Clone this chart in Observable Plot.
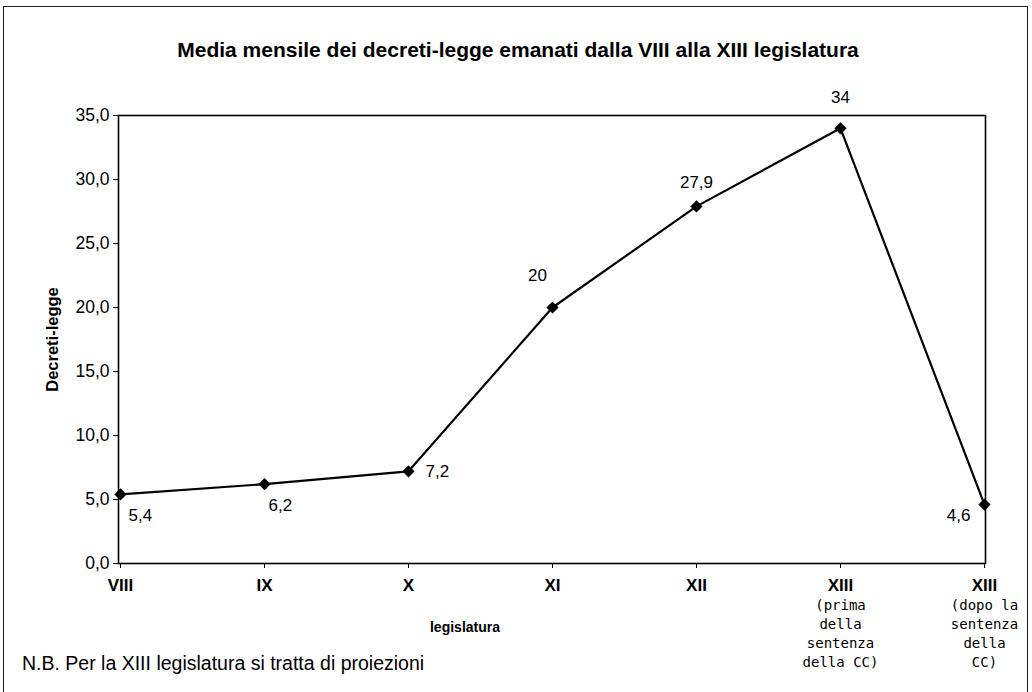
<!DOCTYPE html>
<html>
<head>
<meta charset="utf-8">
<script src="https://cdn.jsdelivr.net/npm/d3@7"></script>
<script src="https://cdn.jsdelivr.net/npm/@observablehq/plot@0.6"></script>
<style>
  html, body { margin: 0; padding: 0; background: #fff; }
  #wrap { position: relative; width: 1032px; height: 692px; overflow: hidden; font-family: "Liberation Sans", Arial, sans-serif; }
  #border { position: absolute; left: 3px; top: 6px; width: 1025px; height: 700px; border: 1px solid #222; box-sizing: border-box; }
  #title { position: absolute; left: 0; width: 1036px; top: 38px; text-align: center; font-weight: bold; font-size: 21px; color: #000; }
  #xtitle { position: absolute; left: 365px; width: 200px; top: 619px; text-align: center; font-weight: bold; font-size: 14px; color: #000; }
  #note { position: absolute; left: 22px; top: 652px; font-size: 19.5px; color: #000; }
  #chart { position: absolute; left: 0; top: 0; }
  #chart [aria-label="y-axis label"] text { font-weight: bold; font-size: 16.5px; }
</style>
</head>
<body>
<div id="wrap">
  <div id="chart"></div>
  <div id="border"></div>
  <div id="title">Media mensile dei decreti-legge emanati dalla VIII alla XIII legislatura</div>
  <div id="xtitle">legislatura</div>
  <div id="note">N.B. Per la XIII legislatura si tratta di proiezioni</div>
</div>
<script>
// ---- data ----
const categories = ["VIII", "IX", "X", "XI", "XII", "XIII-prima", "XIII-dopo"];
const tickLabels = ["VIII", "IX", "X", "XI", "XII", "XIII", "XIII"];
const subLabels = ["", "", "", "", "", "(prima\ndella\nsentenza\ndella CC)", "(dopo la\nsentenza\ndella\nCC)"];
const values = [5.4, 6.2, 7.2, 20, 27.9, 34, 4.6];
const valueLabels = ["5,4", "6,2", "7,2", "20", "27,9", "34", "4,6"];
const yTicks = [0, 5, 10, 15, 20, 25, 30, 35];

// ---- label placement (style only) ----
const labelPlacement = [
  {dx: 8, dy: 21, anchor: "start"},
  {dx: 4, dy: 21, anchor: "start"},
  {dx: 17, dy: 0, anchor: "start"},
  {dx: -15, dy: -32, anchor: "middle"},
  {dx: 0, dy: -24, anchor: "middle"},
  {dx: 0, dy: -31, anchor: "middle"},
  {dx: -14, dy: 11, anchor: "end"}
];

const data = categories.map((c, i) => ({cat: c, value: values[i], label: valueLabels[i], tick: tickLabels[i], sub: subLabels[i]}));

const labelMarks = data.map((d, i) => Plot.text([d], {
  x: "cat", y: "value", text: "label",
  dx: labelPlacement[i].dx, dy: labelPlacement[i].dy, textAnchor: labelPlacement[i].anchor,
  fontSize: 17, fill: "black"
}));

const chart = Plot.plot({
  width: 1032,
  height: 692,
  marginLeft: 118,
  marginRight: 47,
  marginTop: 115,
  marginBottom: 129,
  style: {fontFamily: "'Liberation Sans', Arial, sans-serif", fontSize: "16px", color: "black", background: "transparent", overflow: "visible"},
  x: {type: "point", domain: categories, padding: 0},
  y: {domain: [0, 35]},
  marks: [
    Plot.frame({stroke: "black", strokeWidth: 1.6}),
    Plot.axisY({ticks: yTicks, tickFormat: d => d.toFixed(1).replace(".", ","), tickSize: 5, tickPadding: 4, fontSize: 17.5,
      label: "Decreti-legge", labelAnchor: "center", labelOffset: 72, labelArrow: "none"}),
    Plot.axisX({tickFormat: d => tickLabels[categories.indexOf(d)], tickSize: 5, tickPadding: 10, fontSize: 17, fontWeight: "bold", label: null}),
    Plot.text(data, {x: "cat", text: "sub", frameAnchor: "bottom", lineAnchor: "top", dy: 33, lineHeight: 1.36,
      fontFamily: "'DejaVu Sans Mono', monospace", fontSize: 14, fill: "black"}),
    Plot.line(data, {x: "cat", y: "value", stroke: "black", strokeWidth: 2.2}),
    Plot.dot(data, {x: "cat", y: "value", symbol: "diamond2", r: 5.5, fill: "black", stroke: "none"}),
    ...labelMarks
  ]
});
document.getElementById("chart").appendChild(chart);
</script>
</body>
</html>
